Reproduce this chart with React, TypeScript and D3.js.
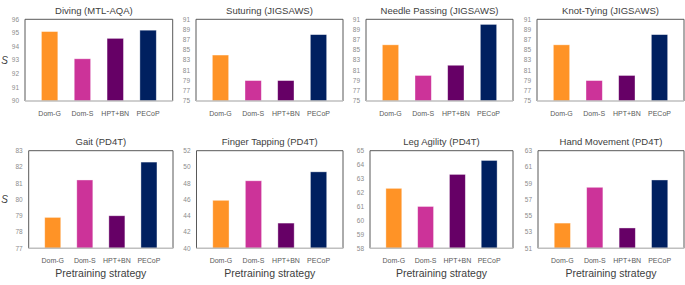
import * as d3 from "d3";
import { useEffect, useRef } from "react";

// pretraining strategies (x categories)
const strategies = ["Dom-G", "Dom-S", "HPT+BN", "PECoP"];
const barColors = ["#ff9326", "#cc3399", "#660066", "#002060"];

const panelTitles = [
  "Diving (MTL-AQA)",
  "Suturing (JIGSAWS)",
  "Needle Passing (JIGSAWS)",
  "Knot-Tying (JIGSAWS)",
  "Gait (PD4T)",
  "Finger Tapping (PD4T)",
  "Leg Agility (PD4T)",
  "Hand Movement (PD4T)",
];

// values
const diving = [95.1, 93.1, 94.6, 95.2];
const suturing = [84, 79, 79, 88];
const needlePassing = [86, 80, 82, 90];
const knotTying = [86, 79, 80, 88];
const gait = [78.9, 81.2, 79.0, 82.3];
const fingerTapping = [45.9, 48.3, 43.1, 49.4];
const legAgility = [62.3, 61.0, 63.3, 64.3];
const handMovement = [54.1, 58.5, 53.5, 59.4];

// y axis: [min, max, step]
const yAxes = [
  [90, 96, 1],
  [75, 91, 2],
  [75, 91, 2],
  [75, 91, 2],
  [77, 83, 1],
  [40, 52, 2],
  [58, 65, 1],
  [51, 63, 2],
];

const series = [diving, suturing, needlePassing, knotTying, gait, fingerTapping, legAgility, handMovement];

// plot rectangles [left, right, top, bottom]
const plots = [
  [25, 172.7, 19.3, 101],
  [196, 343, 19.3, 101],
  [366, 513, 19.3, 101],
  [537, 684, 19.3, 101],
  [28.7, 173, 150.7, 248.3],
  [196.5, 343, 150.7, 248.3],
  [370, 513, 150.7, 248.3],
  [538, 684, 150.7, 248.3],
];

const font = "'Liberation Sans', Arial, sans-serif";

const App = () => {
  const ref = useRef<SVGSVGElement>(null);

  useEffect(() => {
    const svg = d3.select(ref.current);
    svg.selectAll("*").remove();

    series.forEach((values, i) => {
      const [l, r, t, b] = plots[i];
      const [lo, hi, step] = yAxes[i];
      const g = svg.append("g");

      const x = d3.scaleBand().domain(strategies).range([l, r]).padding(0.5);
      const y = d3.scaleLinear().domain([lo, hi]).range([b, t]);
      const ticks = d3.range(lo, hi + step / 2, step);

      // frame
      g.append("path")
        .attr("d", `M${l},${b}V${t}H${r}V${b}`)
        .attr("fill", "none")
        .attr("stroke", "#595959")
        .attr("stroke-width", 1);

      // y tick labels
      g.selectAll(".yt")
        .data(ticks)
        .join("text")
        .attr("x", l - 6)
        .attr("y", (d) => y(d))
        .attr("dy", "0.35em")
        .attr("text-anchor", "end")
        .attr("font-family", font)
        .attr("font-size", 6.5)
        .attr("fill", "#8c8c8c")
        .text((d) => d);

      // bars
      g.selectAll("rect")
        .data(values)
        .join("rect")
        .attr("x", (_, j) => x(strategies[j])!)
        .attr("y", (d) => y(d))
        .attr("width", x.bandwidth())
        .attr("height", (d) => b - y(d))
        .attr("fill", (_, j) => barColors[j])
        .attr("stroke", "#ffffff")
        .attr("stroke-opacity", 0.5)
        .attr("stroke-width", 0.75);

      // x axis line
      g.append("line")
        .attr("x1", l)
        .attr("x2", r)
        .attr("y1", b)
        .attr("y2", b)
        .attr("stroke", "#bfbfbf")
        .attr("stroke-width", 1.5);

      // x tick labels
      g.selectAll(".xt")
        .data(strategies)
        .join("text")
        .attr("x", (d) => x(d)! + x.bandwidth() / 2)
        .attr("y", b + 15)
        .attr("text-anchor", "middle")
        .attr("font-family", font)
        .attr("font-size", 7)
        .attr("fill", "#595959")
        .text((d) => d);

      // title
      g.append("text")
        .attr("x", (l + r) / 2 - (i === 0 ? 5 : 0))
        .attr("y", t - 5.5)
        .attr("text-anchor", "middle")
        .attr("font-family", font)
        .attr("font-size", 9.5)
        .attr("fill", "#404040")
        .text(panelTitles[i]);

      if (i % 4 === 0) {
        g.append("text")
          .attr("x", 4.5)
          .attr("y", (t + b) / 2 + 3.5)
          .attr("text-anchor", "middle")
          .attr("font-family", font)
          .attr("font-style", "italic")
          .attr("font-size", 10)
          .attr("fill", "#404040")
          .text("S");
      }
      if (i >= 4) {
        g.append("text")
          .attr("x", (l + r) / 2)
          .attr("y", 277)
          .attr("text-anchor", "middle")
          .attr("font-family", font)
          .attr("font-size", 10.5)
          .attr("fill", "#404040")
          .text("Pretraining strategy");
      }
    });
  }, []);

  return (
    <div style={{ position: "fixed", left: 0, top: 0 }}>
      <svg ref={ref} width={685} height={285} style={{ display: "block", background: "#fff" }} />
    </div>
  );
};

export default App;
